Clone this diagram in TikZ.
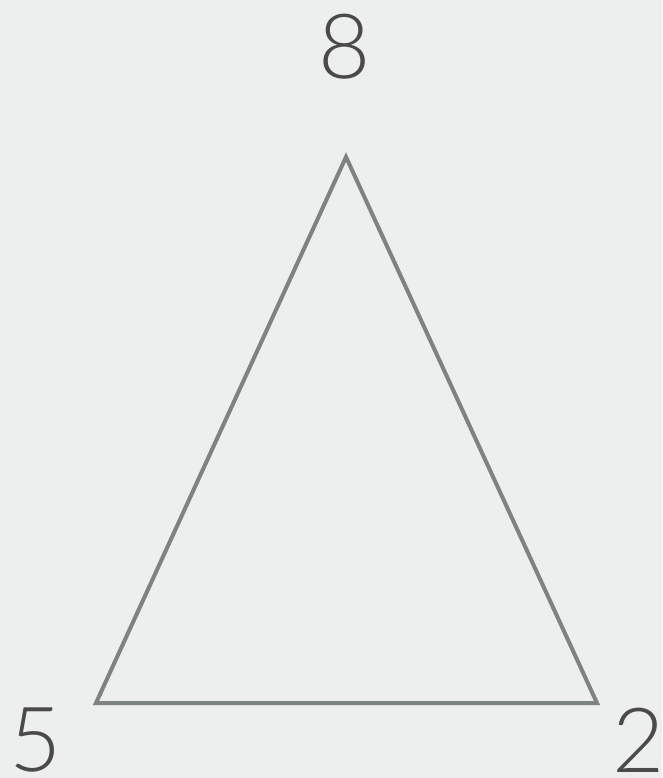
\documentclass[tikz,border=0pt]{standalone}
\usepackage{fontspec}
\setmainfont{Lato}[UprightFont={* Light}]
\definecolor{bg}{HTML}{EDEEEE}
\definecolor{edge}{HTML}{7D8282}
\definecolor{txt}{HTML}{4A4A4A}
\begin{document}
\begin{tikzpicture}[x=1pt,y=-1pt,
  lbl/.style={text=txt,font=\fontsize{90}{90}\selectfont,inner sep=0pt,anchor=center},
  side/.style={draw=edge,line width=4pt,line join=miter}]
\fill[bg] (0,0) rectangle (662,778);
\useasboundingbox (0,0) rectangle (662,778);
\coordinate (a) at (346,157);
\coordinate (b) at (96,703);
\coordinate (c) at (597,703);
\draw[side] (a) -- (b) -- (c) -- cycle;
\node[lbl] (n8) at (345,47) {8};
\node[lbl] (n5) at (36,740) {5};
\node[lbl] (n2) at (639,740) {2};
\end{tikzpicture}
\end{document}
